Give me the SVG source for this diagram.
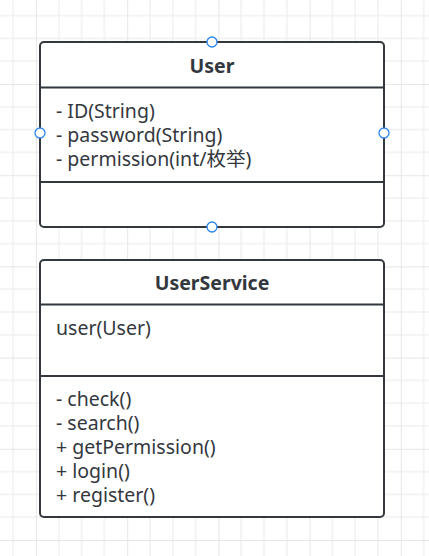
<svg xmlns="http://www.w3.org/2000/svg" width="429" height="556" viewBox="0 0 429 556">
<style>
.box{fill:#fff;stroke:#33383e;stroke-width:2}
.sep{stroke:#33383e;stroke-width:2}
.title{font-family:"Noto Sans","Noto Sans CJK SC",sans-serif;font-weight:bold;font-size:19.5px;fill:#33383e;text-anchor:middle}
.txt{font-family:"Noto Sans","Noto Sans CJK SC",sans-serif;font-size:19.5px;fill:#33383e}
.port{fill:#fff;stroke:#2b84f0;stroke-width:1.3}
</style>
<defs>
<pattern id="grid" patternUnits="userSpaceOnUse" x="36" y="84" width="91.2" height="91.2">
<path d="M22.8 0V91.2M45.6 0V91.2M68.4 0V91.2M0 22.8H91.2M0 45.6H91.2M0 68.4H91.2" stroke="#f1f1f1" stroke-width="1.5" fill="none"/>
<path d="M0 0V91.2M0 0H91.2" stroke="#e6e6e6" stroke-width="2" fill="none"/>
</pattern>
</defs>
<rect width="429" height="556" fill="#fff"/>
<rect width="429" height="556" fill="url(#grid)"/>
<g id="connectors"></g>
<g id="User">
<rect class="box" x="40" y="42" width="344" height="185" rx="4"/>
<line class="sep" x1="40" y1="87.5" x2="384" y2="87.5"/>
<line class="sep" x1="40" y1="182" x2="384" y2="182"/>
<text class="title" x="212" y="73">User</text>
<text class="txt" x="56" y="118">- ID(String)</text>
<text class="txt" x="56" y="142">- password(String)</text>
<text class="txt" x="56" y="166">- permission(int/枚举)</text>
<circle class="port" cx="212" cy="42" r="5"/>
<circle class="port" cx="40" cy="133" r="5"/>
<circle class="port" cx="384" cy="133" r="5"/>
<circle class="port" cx="212" cy="227" r="5"/>
</g>
<g id="UserService">
<rect class="box" x="40" y="260" width="344" height="257" rx="4"/>
<line class="sep" x1="40" y1="304.5" x2="384" y2="304.5"/>
<line class="sep" x1="40" y1="376" x2="384" y2="376"/>
<text class="title" x="212" y="290">UserService</text>
<text class="txt" x="56" y="335">user(User)</text>
<text class="txt" x="56" y="406">- check()</text>
<text class="txt" x="56" y="430">- search()</text>
<text class="txt" x="56" y="454">+ getPermission()</text>
<text class="txt" x="56" y="478">+ login()</text>
<text class="txt" x="56" y="502">+ register()</text>
</g>
</svg>
